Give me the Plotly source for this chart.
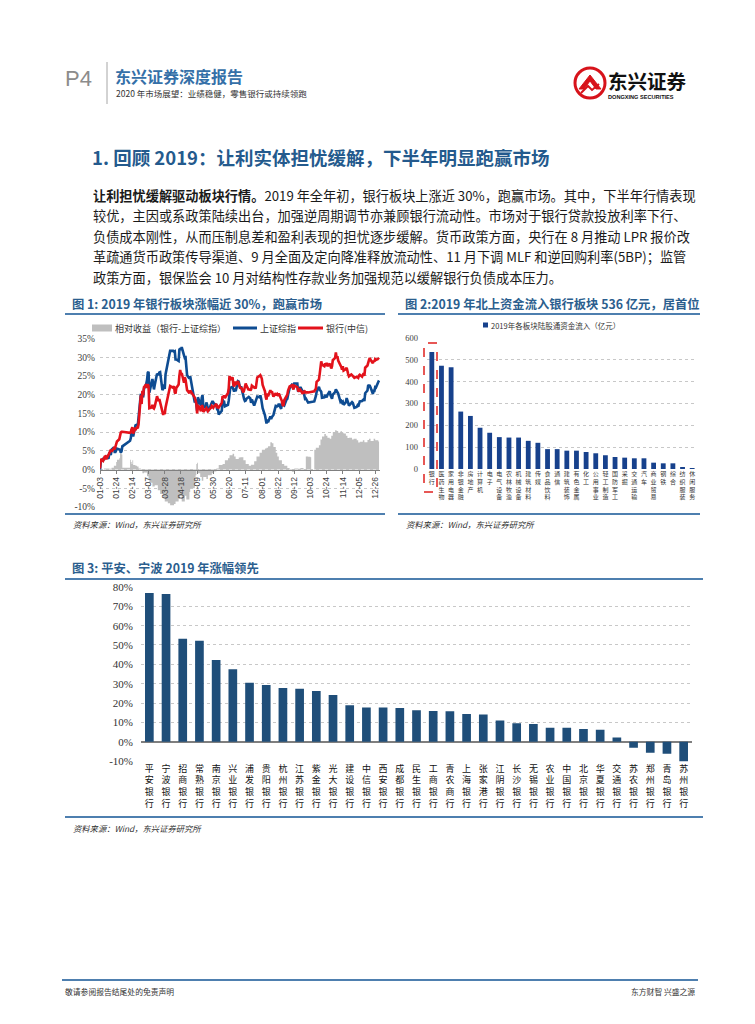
import plotly.graph_objects as go

W, H = 755, 1024
CJK = "Noto Sans CJK SC"
SERIF = "Liberation Serif"
SANS = "Liberation Sans"

# ---------------- data: figure 1 (cumulative return, %) ----------------
days = [
    "01-03","01-04","01-07","01-08","01-09","01-10","01-11","01-14","01-15","01-16","01-17","01-18","01-21","01-22","01-23","01-24","01-25","01-28","01-29","01-30","01-31",
    "02-01","02-11","02-12","02-13","02-14","02-15","02-18","02-19","02-20","02-21","02-22","02-25","02-26","02-27","02-28",
    "03-01","03-04","03-05","03-06","03-07","03-08","03-11","03-12","03-13","03-14","03-15","03-18","03-19","03-20","03-21","03-22","03-25","03-26","03-27","03-28","03-29",
    "04-01","04-02","04-03","04-04","04-08","04-09","04-10","04-11","04-12","04-15","04-16","04-17","04-18","04-19","04-22","04-23","04-24","04-25","04-26","04-29","04-30",
    "05-06","05-07","05-08","05-09","05-10","05-13","05-14","05-15","05-16","05-17","05-20","05-21","05-22","05-23","05-24","05-27","05-28","05-29","05-30","05-31",
    "06-03","06-04","06-05","06-06","06-10","06-11","06-12","06-13","06-14","06-17","06-18","06-19","06-20","06-21","06-24","06-25","06-26","06-27","06-28",
    "07-01","07-02","07-03","07-04","07-05","07-08","07-09","07-10","07-11","07-12","07-15","07-16","07-17","07-18","07-19","07-22","07-23","07-24","07-25","07-26","07-29","07-30","07-31",
    "08-01","08-02","08-05","08-06","08-07","08-08","08-09","08-12","08-13","08-14","08-15","08-16","08-19","08-20","08-21","08-22","08-23","08-26","08-27","08-28","08-29","08-30",
    "09-02","09-03","09-04","09-05","09-06","09-09","09-10","09-11","09-12","09-16","09-17","09-18","09-19","09-20","09-23","09-24","09-25","09-26","09-27","09-30",
    "10-08","10-09","10-10","10-11","10-14","10-15","10-16","10-17","10-18","10-21","10-22","10-23","10-24","10-25","10-28","10-29","10-30","10-31",
    "11-01","11-04","11-05","11-06","11-07","11-08","11-11","11-12","11-13","11-14","11-15","11-18","11-19","11-20","11-21","11-22","11-25","11-26","11-27","11-28","11-29",
    "12-02","12-03","12-04","12-05","12-06","12-09","12-10","12-11","12-12","12-13","12-16","12-17","12-18","12-19","12-20","12-23","12-24","12-25","12-26","12-27","12-30","12-31",
]
sse_ret = [
    0.0,2.0,2.8,2.5,3.2,2.9,3.6,2.9,4.3,4.3,3.9,5.3,5.9,4.7,4.7,5.2,5.6,5.4,5.3,4.5,4.9,
    6.2,7.7,8.4,10.4,10.4,8.8,11.8,11.8,12.0,11.7,13.8,20.2,19.4,19.9,19.3,
    21.5,22.9,23.9,25.9,26.1,20.5,22.8,24.2,22.8,21.4,22.6,25.6,25.4,25.4,25.9,26.0,21.2,21.6,22.7,21.5,25.4,
    28.6,28.9,30.5,31.7,31.7,31.5,31.6,29.4,29.4,29.0,32.0,32.4,31.9,32.7,30.5,29.8,29.9,26.8,25.2,24.3,24.9,
    17.9,18.7,17.4,15.7,19.3,17.8,17.0,19.2,19.9,17.0,16.5,17.9,17.3,15.7,15.8,17.4,18.1,18.3,17.9,17.6,
    17.3,16.1,16.1,14.7,15.7,18.7,18.1,18.1,16.9,17.2,17.3,18.4,21.2,21.8,22.1,21.0,20.8,21.6,20.9,
    23.6,23.5,22.4,21.9,22.2,19.0,18.8,18.3,18.4,18.9,19.4,19.2,19.0,17.8,18.7,17.1,17.7,18.6,19.2,19.5,19.3,19.8,19.0,
    18.0,16.4,14.5,12.7,12.3,13.4,12.6,14.2,13.5,14.0,14.3,14.6,17.0,16.9,16.9,17.0,17.6,16.2,17.8,17.4,17.3,17.1,
    18.7,18.9,20.0,21.2,21.7,22.7,22.6,22.1,23.0,23.0,20.8,21.2,21.7,22.0,20.8,21.1,19.9,18.9,19.0,17.9,
    18.2,18.7,19.6,20.7,22.1,21.4,20.9,20.8,19.2,19.3,19.9,19.4,19.3,19.9,20.9,19.9,19.3,18.9,
    20.0,20.7,21.4,20.9,20.9,20.3,18.1,18.3,17.9,18.1,17.3,18.0,19.1,18.1,17.8,17.1,17.9,18.0,17.8,17.3,16.5,
    16.7,17.1,16.8,17.7,18.2,18.3,18.4,18.7,18.3,20.4,21.1,22.6,22.4,22.4,21.9,20.2,21.0,21.0,22.0,21.9,23.4,23.8,
]
bank_ret = [
    0.3,2.8,2.3,3.0,3.4,3.5,2.8,3.9,4.4,4.6,5.3,4.8,5.7,5.4,6.0,6.6,7.5,8.1,9.7,9.9,10.1,
    10.1,9.8,10.0,10.8,11.3,9.6,11.2,10.9,11.2,11.0,12.1,19.8,17.5,21.0,19.8,
    22.0,22.8,21.8,22.8,22.3,16.4,16.6,17.3,16.5,16.3,16.8,19.6,18.9,18.3,18.8,17.9,15.5,14.6,15.2,14.8,16.5,
    19.0,20.5,21.5,22.3,21.8,22.3,20.6,20.3,21.8,22.7,25.0,26.6,25.5,25.8,23.2,24.7,24.0,21.6,21.2,20.4,21.1,
    19.2,18.0,17.6,15.0,17.2,16.1,15.6,17.1,16.9,15.4,16.0,16.4,16.0,15.6,15.9,16.5,17.0,16.8,16.5,16.9,
    17.5,16.4,16.8,16.6,17.8,19.6,19.3,19.8,19.1,20.1,20.4,21.7,25.0,24.1,24.6,22.6,22.2,23.5,22.6,
    23.6,23.0,22.4,21.6,22.0,20.6,21.2,22.3,23.0,22.4,21.2,21.6,21.1,21.4,22.4,21.9,22.0,21.6,23.0,24.6,25.0,25.2,24.8,
    24.2,22.6,20.9,19.4,18.7,20.3,19.6,21.2,20.6,20.9,20.0,19.5,20.4,19.8,20.1,19.7,20.3,18.9,18.3,17.2,17.0,18.5,
    19.7,20.0,21.1,21.8,22.2,22.5,21.9,21.4,22.4,22.0,21.2,20.8,21.6,21.3,20.2,21.0,20.4,20.8,20.6,20.6,
    20.9,21.3,21.5,23.4,24.0,25.5,27.0,28.9,28.0,27.6,28.4,27.6,28.5,27.6,28.3,27.2,27.0,27.6,
    29.2,29.8,31.3,29.8,30.3,29.1,28.0,27.4,26.7,27.6,26.4,26.8,27.2,25.8,25.5,24.9,25.4,25.2,24.9,24.6,24.5,
    24.8,24.6,24.5,25.1,25.3,24.8,25.4,25.7,25.0,27.2,27.8,29.2,29.3,29.8,29.3,28.4,29.1,28.8,29.5,29.3,29.6,29.4,
]
rel_days = [
    "01-03","01-08","01-15","01-18","01-21","01-24","01-25","01-28","01-29","01-30","01-31","02-01",
    "02-11","02-12","02-13","02-14","02-15","02-18","02-20","02-22","02-25","02-27",
    "03-01","03-05","03-07","03-08","03-12","03-15","03-19","03-22","03-26","03-28",
    "04-01","04-04","04-09","04-11","04-15","04-17","04-19","04-23","04-25","04-29","04-30",
    "05-06","05-07","05-08","05-09","05-10","05-13","05-15","05-17","05-21","05-23","05-28","05-31",
    "06-03","06-06","06-11","06-14","06-18","06-20","06-24","06-26","06-28",
    "07-02","07-04","07-08","07-11","07-15","07-18","07-22","07-25","07-29",
    "08-01","08-05","08-07","08-09","08-12","08-14","08-16","08-19","08-21","08-23","08-27","08-30",
    "09-03","09-06","09-09","09-12","09-17","09-20","09-24","09-26","09-27","09-30",
    "10-03","10-04","10-08","10-10","10-14","10-16","10-18","10-21","10-23","10-25","10-28","10-30",
    "11-01","11-04","11-06","11-08","11-11","11-13","11-15","11-18","11-20","11-22","11-26","11-28",
    "12-02","12-04","12-06","12-10","12-12","12-16","12-18","12-20","12-24","12-26","12-30","12-31",
]
rel_ret = [
    0.0,0.3,0.2,0.5,1.0,2.0,2.6,3.0,4.5,4.2,4.0,0.5,
    2.6,2.0,1.5,2.5,1.2,1.0,0.8,0.3,-0.4,-1.0,
    -0.8,-1.8,-2.5,-3.5,-4.5,-4.2,-5.5,-6.5,-7.5,-8.5,
    -9.0,-9.5,-9.2,-8.5,-7.8,-7.0,-8.5,-7.0,-8.0,-6.0,-5.0,
    -3.0,-1.5,1.5,1.8,-1.0,-2.0,-3.0,-2.0,-2.5,-1.5,-1.0,-0.5,
    0.3,1.2,1.5,2.5,3.0,3.8,4.2,3.5,2.8,
    3.2,3.3,2.5,1.5,1.0,1.3,2.2,3.5,4.5,
    5.3,5.6,5.8,6.2,7.3,7.0,6.0,4.5,3.5,2.5,1.5,1.0,
    0.4,-0.3,-0.6,0.3,0.2,0.4,-0.3,0.0,3.5,3.4,
    3.3,0.0,5.3,5.8,6.5,8.0,8.8,9.5,9.0,8.5,8.2,9.0,
    10.0,10.5,10.3,9.8,10.2,9.8,9.6,9.0,8.4,8.5,8.0,8.2,
    7.8,7.2,7.4,7.8,7.3,7.9,8.2,7.6,8.2,7.8,7.5,6.3,
]
fig1_yticks = [-10, -5, 0, 5, 10, 15, 20, 25, 30, 35]
fig1_yticktext = ["-10%", "-5%", "0%", "5%", "10%", "15%", "20%", "25%", "30%", "35%"]

# ---------------- data: figure 2 (northbound inflow, 100m CNY) ----------------
sectors = ["银行", "医药生物", "家用电器", "非银金融", "房地产", "计算机", "电子", "电气设备",
           "农林牧渔", "机械设备", "建筑材料", "传媒", "食品饮料", "通信", "建筑装饰", "有色金属",
           "化工", "公用事业", "轻工制造", "国防军工", "采掘", "交通运输", "汽车", "商业贸易",
           "钢铁", "综合", "纺织服装", "休闲服务"]
inflow = [536, 473, 466, 263, 243, 189, 166, 146, 144, 144, 129, 120, 91, 91, 84, 84,
          78, 72, 63, 55, 52, 49, 49, 29, 26, 26, 9, 4]
fig2_yticks = [0, 100, 200, 300, 400, 500, 600]

# ---------------- data: figure 3 (2019 bank stock gains, %) ----------------
banks = ["平安银行", "宁波银行", "招商银行", "常熟银行", "南京银行", "兴业银行", "浦发银行",
         "贵阳银行", "杭州银行", "江苏银行", "紫金银行", "光大银行", "建设银行", "中信银行",
         "西安银行", "成都银行", "民生银行", "工商银行", "青农商行", "上海银行", "张家港行",
         "江阴银行", "长沙银行", "无锡银行", "农业银行", "中国银行", "北京银行", "华夏银行",
         "交通银行", "苏农银行", "郑州银行", "青岛银行", "苏州银行"]
gain = [76.9, 76.4, 53.2, 52.2, 42.2, 37.5, 30.5, 29.3, 27.7, 27.4, 26.2, 24.1, 18.8, 17.7,
        17.7, 17.4, 16.2, 15.9, 15.7, 14.3, 14.0, 10.9, 9.5, 9.1, 7.2, 7.2, 6.6, 6.2,
        2.1, -3.1, -5.7, -6.2, -10.2]
fig3_yticks = [-10, 0, 10, 20, 30, 40, 50, 60, 70, 80]
fig3_yticktext = ["-10%", "0%", "10%", "20%", "30%", "40%", "50%", "60%", "70%", "80%"]

# ---------------- page helpers ----------------
def X(p):
    return p / W

def Y(p):
    return 1 - p / H

shapes, annos = [], []

def hline(y, x0, x1, color="#4E7FAF", width=2):
    shapes.append(dict(type="line", xref="paper", yref="paper", x0=X(x0), x1=X(x1),
                       y0=Y(y), y1=Y(y), line=dict(color=color, width=width)))

def txt(x, y, s, size, color="#222222", family=CJK, anchor="left"):
    annos.append(dict(x=X(x), y=Y(y), xref="paper", yref="paper", text=s, showarrow=False,
                      xanchor=anchor, yanchor="middle", align=anchor,
                      font=dict(family=family, size=size, color=color)))

BLUE_T = "#2B5E8E"
RULE = "#4E7FAF"

# ---------------- figure ----------------
fig = go.Figure()
full1 = ["2019-" + d for d in days]
fig.add_trace(go.Scatter(x=["2019-" + d for d in rel_days], y=rel_ret, mode="lines",
                         line=dict(width=0, shape="hv", color="#BFBFBF"), fill="tozeroy",
                         fillcolor="#BFBFBF", xaxis="x", yaxis="y", showlegend=False,
                         name="相对收益（银行-上证综指）"))
fig.add_trace(go.Scatter(x=full1, y=sse_ret, mode="lines", line=dict(color="#0E4C92", width=2.6),
                         xaxis="x", yaxis="y", showlegend=False, name="上证综指"))
fig.add_trace(go.Scatter(x=full1, y=bank_ret, mode="lines", line=dict(color="#E3121B", width=2.6),
                         xaxis="x", yaxis="y", showlegend=False, name="银行(中信)"))
fig.add_trace(go.Bar(x=sectors, y=inflow, marker=dict(color="#17418C", line=dict(width=0)),
                     width=0.5, xaxis="x2", yaxis="y2", showlegend=False))
fig.add_trace(go.Bar(x=banks, y=gain, marker=dict(color="#1F4E79", line=dict(width=0)),
                     width=0.52, xaxis="x3", yaxis="y3", showlegend=False))

# plot boxes (page pixels)
F1 = dict(l=100, r=380, t=338.5, b=507)
F2 = dict(l=427, r=697, t=338, b=469)
F3 = dict(l=141, r=692, t=586.4, b=761.6)
zero1 = F1["t"] + 35 / 45 * (F1["b"] - F1["t"])

grid = dict(showgrid=True, gridcolor="#C8C8C8", griddash="dot", gridwidth=1)

fig.update_layout(
    width=W, height=H, margin=dict(l=0, r=0, t=0, b=0),
    paper_bgcolor="white", plot_bgcolor="white", template="none", showlegend=False,
    bargap=0.5,
    xaxis=dict(domain=[X(F1["l"]), X(F1["r"])], type="date",
               range=["2019-01-03", "2020-01-01 06:00"], anchor="free", position=Y(zero1),
               tick0="2019-01-03", dtick=21 * 86400000, tickformat="%m-%d", tickangle=-90,
               tickfont=dict(family=SANS, size=8.5, color="#404040"), showgrid=False,
               showline=True, linecolor="#808080", linewidth=1.2, ticks="outside",
               ticklen=3, tickcolor="#808080", zeroline=False),
    yaxis=dict(domain=[Y(F1["b"]), Y(F1["t"])], anchor="x", range=[-10, 35],
               tickvals=fig1_yticks, ticktext=fig1_yticktext,
               tickfont=dict(family=SERIF, size=9.5, color="#404040"), zeroline=False,
               showline=False, ticks="", ticklabelstandoff=4, **grid),
    xaxis2=dict(domain=[X(F2["l"]), X(F2["r"])], anchor="y2", type="category",
                tickvals=sectors, ticktext=["<br>".join(s) for s in sectors], tickangle=0,
                tickfont=dict(family=CJK, size=6, color="#333333"), showgrid=False,
                showline=False, ticks="", zeroline=False),
    yaxis2=dict(domain=[Y(F2["b"]), Y(F2["t"])], anchor="x2", range=[0, 600],
                tickvals=fig2_yticks, tickfont=dict(family=SERIF, size=8.5, color="#404040"),
                zeroline=False, showline=False, ticks="", ticklabelstandoff=8, **grid),
    xaxis3=dict(domain=[X(F3["l"]), X(F3["r"])], anchor="y3", type="category",
                tickvals=banks, ticktext=["<br>".join(s) for s in banks], tickangle=0,
                tickfont=dict(family=CJK, size=9, color="#111111"), showgrid=False,
                showline=False, ticks="", zeroline=False),
    yaxis3=dict(domain=[Y(F3["b"]), Y(F3["t"])], anchor="x3", range=[-10.3, 80.3],
                tickvals=fig3_yticks, ticktext=fig3_yticktext,
                tickfont=dict(family=SERIF, size=11, color="#333333"), zeroline=True,
                zerolinecolor="#7F7F7F", zerolinewidth=1.5, showline=False, ticks="",
                ticklabelstandoff=7, **grid),
)

# ---------------- header ----------------
txt(63, 78, "P4", 22, "#8C8C8C", SANS)
shapes.append(dict(type="line", xref="paper", yref="paper", x0=X(107), x1=X(107), y0=Y(62),
                   y1=Y(104), line=dict(color="#A6A6A6", width=1)))
txt(113, 76, "<b>东兴证券深度报告</b>", 16, "#3570A8")
txt(114, 93, "2020 年市场展望：业绩稳健，零售银行或持续领跑", 8.5, "#333333")
# logo
shapes.append(dict(type="circle", xref="paper", yref="paper", x0=X(575), x1=X(605),
                   y0=Y(98), y1=Y(68), line=dict(color="#D7131B", width=3), fillcolor="white"))
def ppath(pts, close=True):
    s = " ".join(("M" if i == 0 else "L") + f" {X(a):.5f},{Y(b):.5f}" for i, (a, b) in enumerate(pts))
    return s + (" Z" if close else "")
shapes.append(dict(type="path", xref="paper", yref="paper",
                   path=ppath([(579, 89), (590, 75), (601, 89), (596, 89), (590, 81), (584, 89)]),
                   fillcolor="#D7131B", line=dict(color="#D7131B", width=1)))
shapes.append(dict(type="path", xref="paper", yref="paper",
                   path=ppath([(581, 93), (588, 86), (592, 90), (599, 84)], close=False),
                   line=dict(color="#D7131B", width=2)))
txt(606, 80, "<b>东兴证券</b>", 19.5, "#111111")
txt(606, 97, "<b>DONGXING SECURITIES</b>", 5.6, "#111111", SANS)

# ---------------- section title & paragraph ----------------
txt(90, 157, "<b>1. 回顾 2019：让利实体担忧缓解，下半年明显跑赢市场</b>", 18.5, "#245A8D")
para = [
    "<b>让利担忧缓解驱动板块行情。</b>2019 年全年初，银行板块上涨近 30%，跑赢市场。其中，下半年行情表现",
    "较优，主因或系政策陆续出台，加强逆周期调节亦兼顾银行流动性。市场对于银行贷款投放利率下行、",
    "负债成本刚性，从而压制息差和盈利表现的担忧逐步缓解。货币政策方面，央行在 8 月推动 LPR 报价改",
    "革疏通货币政策传导渠道、9 月全面及定向降准释放流动性、11 月下调 MLF 和逆回购利率(5BP)；监管",
    "政策方面，银保监会 10 月对结构性存款业务加强规范以缓解银行负债成本压力。",
]
for i, line in enumerate(para):
    txt(91, 195 + i * 20.5, line, 13.2, "#1A1A1A")

# ---------------- figure 1 frame ----------------
txt(70, 304, "<b>图 1: 2019 年银行板块涨幅近 30%，跑赢市场</b>", 12.3, BLUE_T)
hline(314, 65, 385, RULE)
hline(514, 65, 385, RULE)
txt(71, 524, "<i>资料来源：Wind，东兴证券研究所</i>", 8.3, "#333333")
# legend
shapes.append(dict(type="rect", xref="paper", yref="paper", x0=X(92), x1=X(112), y0=Y(331.5),
                   y1=Y(324.5), fillcolor="#BFBFBF", line=dict(width=0)))
txt(113, 328, "相对收益（银行-上证综指）", 9, "#333333")
hline(328, 233, 257, "#0E4C92", 3)
txt(258, 328, "上证综指", 9, "#333333")
hline(328, 298, 323, "#E3121B", 3)
txt(324, 328, "银行(中信)", 9, "#333333")

# ---------------- figure 2 frame ----------------
txt(403, 304, "<b>图 2:2019 年北上资金流入银行板块 536 亿元，居首位</b>", 12.3, BLUE_T)
hline(314, 398, 700, RULE)
hline(514, 398, 700, RULE)
txt(404, 524, "<i>资料来源：Wind，东兴证券研究所</i>", 8.3, "#333333")
shapes.append(dict(type="rect", xref="paper", yref="paper", x0=X(483), x1=X(488), y0=Y(327.5),
                   y1=Y(322.5), fillcolor="#17418C", line=dict(width=0)))
txt(489, 325, "2019年各板块陆股通资金流入（亿元）", 7.5, "#333333")
shapes.append(dict(type="rect", xref="paper", yref="paper", x0=X(424), x1=X(437), y0=Y(492),
                   y1=Y(343), line=dict(color="#E0201E", width=1.5, dash="dash")))

# ---------------- figure 3 frame ----------------
txt(70, 568, "<b>图 3: 平安、宁波 2019 年涨幅领先</b>", 12.3, BLUE_T)
hline(579, 65, 703, RULE)
hline(817, 65, 703, RULE)
txt(71, 828, "<i>资料来源：Wind，东兴证券研究所</i>", 8.3, "#333333")

# ---------------- footer ----------------
hline(980, 62, 698, RULE)
txt(63, 991, "敬请参阅报告结尾处的免责声明", 7.8, "#333333")
txt(697, 991, "东方财智 兴盛之源", 7.8, "#333333", anchor="right")

fig.update_layout(shapes=shapes, annotations=annos)
fig.write_html("out.html", config={"displayModeBar": False},
               post_script="document.body.style.margin='0px';")
